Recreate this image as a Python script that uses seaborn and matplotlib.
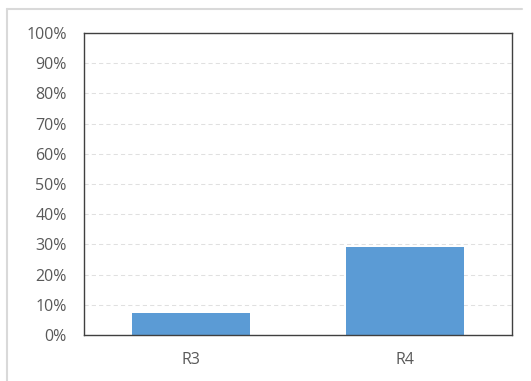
import matplotlib
matplotlib.use("Agg")
import matplotlib.pyplot as plt
import seaborn as sns
import pandas as pd
from matplotlib.lines import Line2D

categories = ["R3", "R4"]
values = [7.3, 29.3]  # percent
yticks = [0, 10, 20, 30, 40, 50, 60, 70, 80, 90, 100]
ytick_labels = [f"{t}%" for t in yticks]

sns.set_theme(style="white")
plt.rcParams['font.family'] = ['Open Sans', 'DejaVu Sans']

W, H = 531, 381
fig = plt.figure(figsize=(W / 100, H / 100), dpi=100)

# outer light-gray frame (top and left edges only visible)
fig.add_artist(Line2D([7 / W, 522 / W], [(H - 9) / H, (H - 9) / H], transform=fig.transFigure,
                      color="#D9D9D9", linewidth=1.5))
fig.add_artist(Line2D([7 / W, 7 / W], [(H - 9) / H, 0], transform=fig.transFigure,
                      color="#D9D9D9", linewidth=1.5))

ax = fig.add_axes([84 / W, (H - 335) / H, (512 - 84) / W, (335 - 33) / H])
df = pd.DataFrame({"cat": categories, "val": values})
sns.barplot(data=df, x="cat", y="val", ax=ax, color="#5B9BD5", width=0.55,
            saturation=1, edgecolor="none")

ax.set_ylim(0, 100)
ax.set_yticks(yticks)
ax.set_yticklabels(ytick_labels)
ax.set_xlabel("")
ax.set_ylabel("")
ax.yaxis.grid(True, color="#E0E0E0", linestyle=(0, (4, 3)), linewidth=0.75)
ax.set_axisbelow(True)
ax.tick_params(axis="y", length=0, pad=12.5, labelsize=11.5, labelcolor="#595959")
ax.tick_params(axis="x", length=0, pad=12.5, labelsize=11.5, labelcolor="#595959")
for s in ax.spines.values():
    s.set_visible(True)
    s.set_color("#404040")
    s.set_linewidth(1.0)

fig.savefig("out.png", dpi=100)
